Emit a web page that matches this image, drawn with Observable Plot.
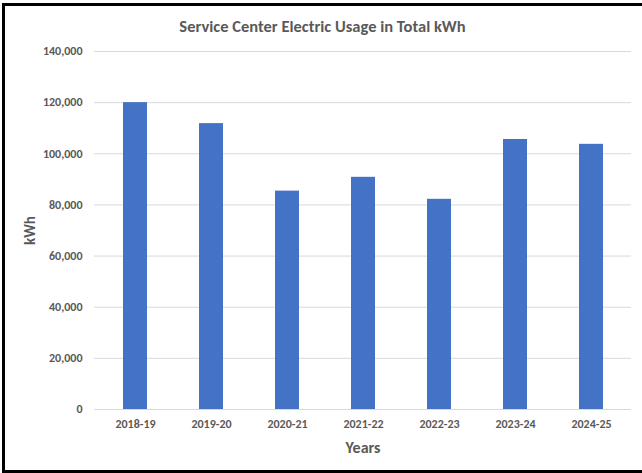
<!DOCTYPE html>
<html>
<head>
<meta charset="utf-8">
<script src="https://cdn.jsdelivr.net/npm/d3@7"></script>
<script src="https://cdn.jsdelivr.net/npm/@observablehq/plot@0.6"></script>
<style>
  html, body { margin: 0; padding: 0; background: #fff; overflow: hidden; }
  #wrap { position: relative; width: 642px; height: 473px; overflow: hidden; font-family: Carlito, Lato, "Open Sans", sans-serif; }
  #frame { position: absolute; left: 2px; top: 3px; width: 700px; height: 470px; box-sizing: border-box; border: 3px solid #000; border-right: none; }
  #title { position: absolute; left: 0; width: 645px; top: 15px; text-align: center; font-weight: bold; font-size: 16.5px; color: #595959; line-height: 22px; }
  #chart { position: absolute; left: 0; top: 40px; }
</style>
</head>
<body>
<div id="wrap">
  <div id="frame"></div>
  <div id="title">Service Center Electric Usage in Total kWh</div>
  <div id="chart"></div>
</div>
<script>
const years = ["2018-19", "2019-20", "2020-21", "2021-22", "2022-23", "2023-24", "2024-25"];
const usage = [120000, 111800, 85400, 90800, 82200, 105600, 103700];
const yTicks = [0, 20000, 40000, 60000, 80000, 100000, 120000, 140000];

const data = years.map((y, i) => ({year: y, kwh: usage[i]}));

const chart = Plot.plot({
  width: 642,
  height: 433,
  marginLeft: 94,
  marginRight: 11,
  marginTop: 11,
  marginBottom: 64,
  style: {fontFamily: "Carlito, Lato, 'Open Sans', sans-serif", fontSize: "12px", fontWeight: "bold", color: "#595959", background: "transparent"},
  x: {domain: years, paddingInner: 0.69, paddingOuter: 0.345, label: null, tickSize: 0},
  y: {domain: [0, 140000], ticks: yTicks, tickFormat: d3.format(","), label: null, tickSize: 0},
  marks: [
    Plot.gridY(yTicks, {stroke: "#d9d9d9", strokeOpacity: 1, strokeWidth: 1}),
    Plot.barY(data, {x: "year", y: "kwh", fill: "#4472C4"}),
    Plot.ruleY([0], {stroke: "#d9d9d9", strokeWidth: 1}),
    Plot.axisY(yTicks, {tickSize: 0, tickPadding: 12, tickFormat: d3.format(","), fill: "#595959", fontWeight: "bold", fontSize: 12, label: null}),
    Plot.axisX({tickSize: 0, tickPadding: 10, fill: "#595959", fontWeight: "bold", fontSize: 12, label: null}),
    Plot.text(["Years"], {frameAnchor: "bottom", lineAnchor: "middle", dy: 38, fontSize: 16, fontWeight: "bold", fill: "#595959"}),
    Plot.text(["kWh"], {frameAnchor: "left", textAnchor: "middle", lineAnchor: "middle", dx: -64, rotate: -90, fontSize: 15, fontWeight: "bold", fill: "#595959"})
  ]
});
document.getElementById("chart").appendChild(chart);
</script>
</body>
</html>
